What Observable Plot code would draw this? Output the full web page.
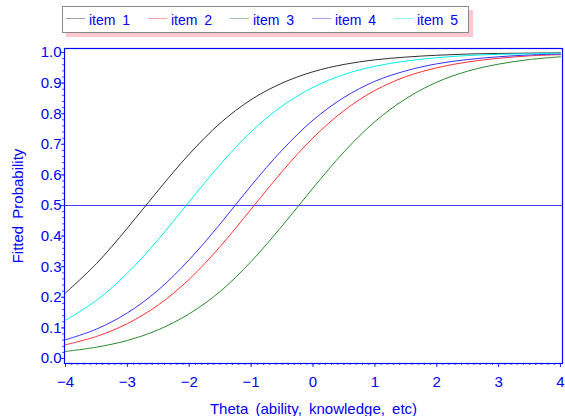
<!DOCTYPE html>
<html><head><meta charset="utf-8">
<script src="https://cdn.jsdelivr.net/npm/d3@7"></script>
<script src="https://cdn.jsdelivr.net/npm/@observablehq/plot@0.6"></script>
<style>
body{margin:0;background:#fff;font-family:"Liberation Sans",Arial,sans-serif;}
#wrap{position:relative;width:565px;height:416px;overflow:hidden;}
#legend{position:absolute;left:62px;top:6px;width:405px;height:25px;border:1px solid #8a8a8a;background:#fff;box-shadow:4px 4px 0 #ffc8d0;}
.item{position:absolute;top:5px;font-size:14px;line-height:16px;color:#0000ff;word-spacing:3px;white-space:nowrap;}
.sw{position:absolute;top:11px;width:19px;height:0;border-top:1px solid;opacity:0.45;}
#chart{position:absolute;left:0;top:40px;}
#chart svg text.title{word-spacing:3px;}
</style></head>
<body>
<div id="wrap">
  <div id="legend"></div>
  <div id="chart"></div>
</div>
<script>
const series = ["item 1", "item 2", "item 3", "item 4", "item 5"];
const colors = ["#303030", "#ff3030", "#2a8a2a", "#3333ff", "#00f0f0"];
const theta = [-4, -3.5, -3, -2.5, -2, -1.5, -1, -0.5, 0, 0.5, 1, 1.5, 2, 2.5, 3, 3.5, 4];
const item1 = [0.214, 0.310, 0.426, 0.550, 0.668, 0.769, 0.846, 0.900, 0.937, 0.961, 0.976, 0.985, 0.991, 0.995, 0.997, 0.998, 0.999];
const item2 = [0.045, 0.072, 0.114, 0.175, 0.259, 0.366, 0.488, 0.611, 0.721, 0.810, 0.876, 0.921, 0.950, 0.969, 0.981, 0.989, 0.993];
const item3 = [0.023, 0.037, 0.059, 0.094, 0.146, 0.219, 0.317, 0.433, 0.557, 0.675, 0.774, 0.849, 0.903, 0.939, 0.962, 0.977, 0.986];
const item4 = [0.061, 0.096, 0.149, 0.224, 0.323, 0.440, 0.565, 0.681, 0.779, 0.853, 0.906, 0.940, 0.963, 0.977, 0.986, 0.992, 0.995];
const item5 = [0.125, 0.190, 0.279, 0.389, 0.513, 0.634, 0.741, 0.825, 0.886, 0.928, 0.955, 0.972, 0.983, 0.990, 0.994, 0.996, 0.998];
const xTicks = [-4, -3, -2, -1, 0, 1, 2, 3, 4];
const yTicks = [0, 0.1, 0.2, 0.3, 0.4, 0.5, 0.6, 0.7, 0.8, 0.9, 1.0];
const refLine = [0.5];
const xTitle = "Theta (ability, knowledge, etc)";
const yTitle = "Fitted Probability";

const values = [item1, item2, item3, item4, item5];
const data = [];
series.forEach((s, i) => theta.forEach((t, j) => data.push({item: s, theta: t, p: values[i][j]})));

const xMinor = d3.range(-40, 41).map(d => d / 10);
const yMinor = d3.range(0, 51).map(d => d / 50);

const legend = document.getElementById("legend");
series.forEach((s, i) => {
  const sw = document.createElement("div");
  sw.className = "sw";
  sw.style.left = (3 + 82 * i) + "px";
  sw.style.borderColor = colors[i];
  legend.appendChild(sw);
  const tx = document.createElement("div");
  tx.className = "item";
  tx.style.left = (26 + 82 * i) + "px";
  tx.textContent = s;
  legend.appendChild(tx);
});

const chart = Plot.plot({
  width: 565,
  height: 376,
  marginLeft: 64,
  marginRight: 3,
  marginTop: 8,
  marginBottom: 53,
  x: {domain: [-4, 4], insetLeft: 1, insetRight: 2},
  y: {domain: [0, 1], insetTop: 4, insetBottom: 5},
  color: {domain: series, range: colors},
  style: {fontFamily: "'Liberation Sans', Arial, sans-serif", fontSize: "15px", color: "#0000ff", background: "white", overflow: "visible"},
  marks: [
    Plot.ruleY(refLine, {stroke: "#4040ff", strokeWidth: 1}),
    Plot.line(data, {x: "theta", y: "p", z: "item", stroke: "item", strokeWidth: 1, curve: "catmull-rom"}),
    Plot.axisX({ticks: xMinor, tickSize: 2, tickFormat: () => "", stroke: "#5050ff", label: null}),
    Plot.axisX({ticks: xTicks, tickSize: 4, tickPadding: 9, stroke: "#3030ff", fill: "#0000ff", fontSize: 15, label: null}),
    Plot.axisY({ticks: yMinor, tickSize: 2, tickFormat: () => "", stroke: "#5050ff", label: null}),
    Plot.axisY({ticks: yTicks, tickSize: 3, tickPadding: 0, tickFormat: d3.format(".1f"), stroke: "#3030ff", fill: "#0000ff", fontSize: 15, label: null}),
    Plot.frame({stroke: "#0000ff", strokeWidth: 1.2}),
    Plot.text([xTitle], {frameAnchor: "bottom", textAnchor: "middle", lineAnchor: "middle", dy: 46, fill: "#0000ff", fontSize: 15, className: "title"}),
    Plot.text([yTitle], {frameAnchor: "left", textAnchor: "middle", lineAnchor: "middle", rotate: -90, dx: -46, fill: "#0000ff", fontSize: 15, className: "title"})
  ]
});
chart.querySelectorAll("text").forEach(t => { if (t.textContent === xTitle || t.textContent === yTitle) t.style.wordSpacing = "3px"; });
document.getElementById("chart").appendChild(chart);
</script>
</body></html>
